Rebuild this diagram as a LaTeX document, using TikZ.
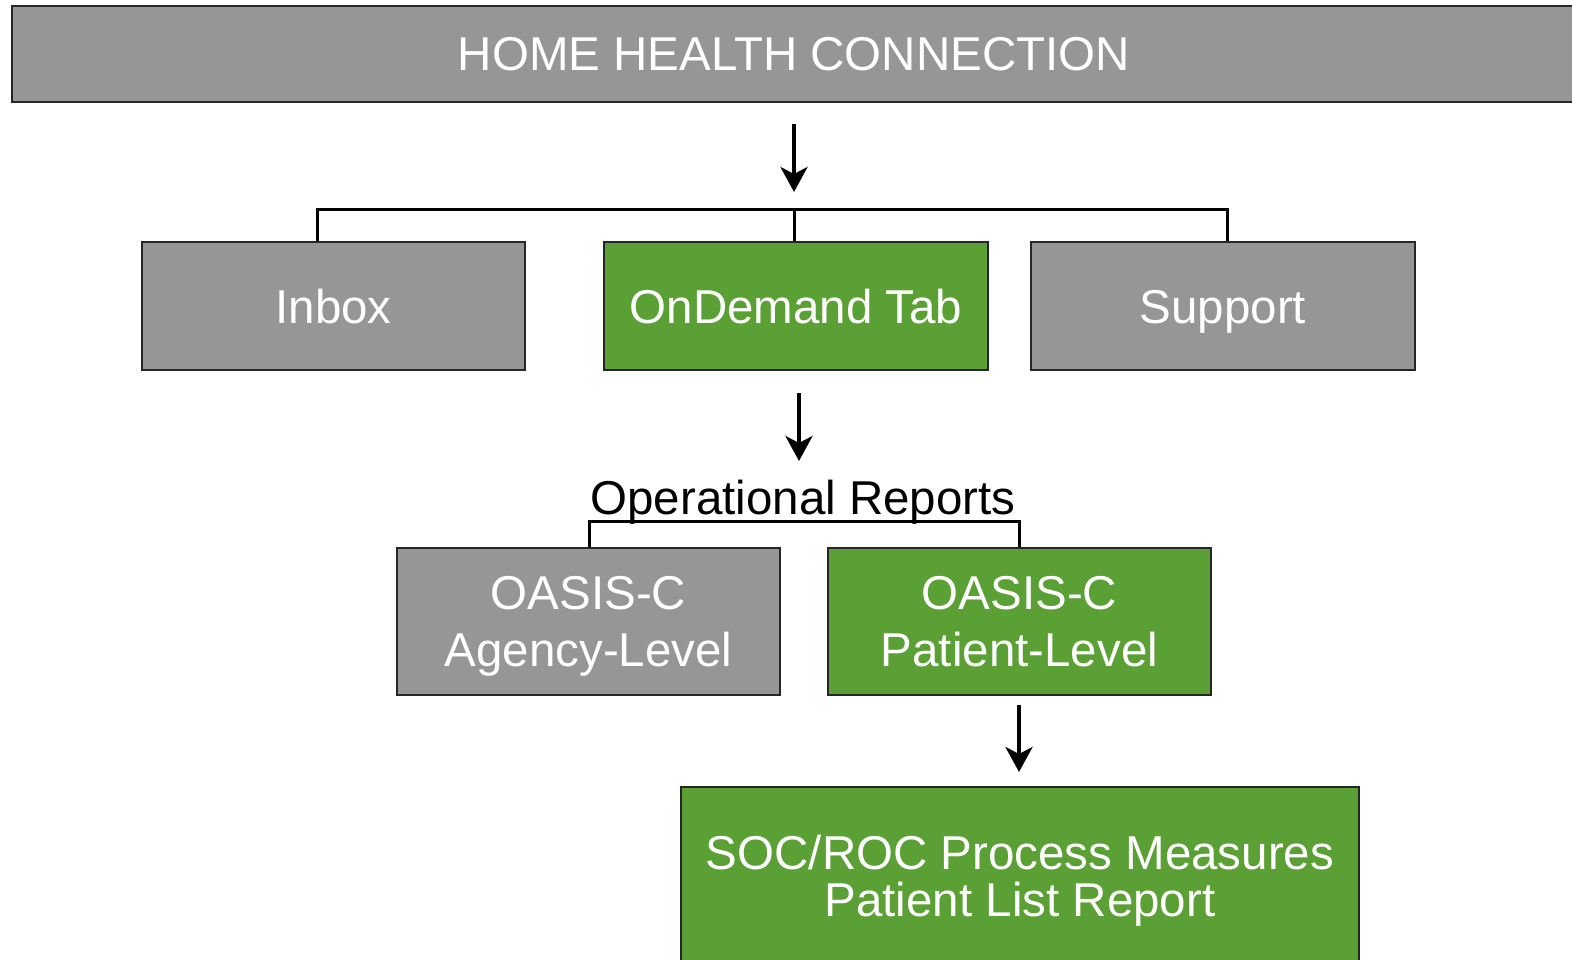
\documentclass[tikz,border=0pt]{standalone}
\usepackage{fontspec}
\setmainfont{Liberation Sans}
\usetikzlibrary{arrows.meta}
\definecolor{boxgray}{RGB}{150,150,150}
\definecolor{boxgreen}{RGB}{90,160,52}
\tikzset{
    menubox/.style={draw=black!85, line width=1.8pt, fill=boxgray, text=white, inner sep=0pt,
                    font=\fontsize{47.5}{57}\selectfont, align=center, text depth=-4pt},
    activebox/.style={menubox, fill=boxgreen},
    flowarrow/.style={line width=3.8pt, -{Stealth[length=25pt,width=27pt,inset=7pt]}},
    bracket/.style={line width=3pt},
  }
\begin{document}
\begin{tikzpicture}[x=1pt,y=-1pt]
				  %page frame
				  \path[use as bounding box, clip] (0,0) rectangle (1572,960);
				  \node[menubox, minimum width=1564pt, minimum height=96pt, text height=34pt, text depth=0pt](hhc) at (794,54) {HOME HEALTH CONNECTION};
				  \node[menubox, minimum width=383pt, minimum height=128pt, text height=34pt](inbox) at (333.5,306) {Inbox};
				  \node[activebox, minimum width=384pt, minimum height=128pt, text height=34pt](ondemand) at (796,306) {OnDemand Tab};
				  \node[menubox, minimum width=384pt, minimum height=128pt, text height=34pt](support) at (1223,306) {Support};
				  \node[font=\fontsize{47.5}{57}\selectfont, inner sep=0pt](opreports) at (803,502) {Operational Reports};
				  \node[menubox, minimum width=383pt, minimum height=147pt](agency) at (588.5,621.5) {OASIS-C\\Agency-Level};
				  \node[activebox, minimum width=383pt, minimum height=147pt](patient) at (1019.5,621.5) {OASIS-C\\Patient-Level};
				  \node[activebox, minimum width=678pt, minimum height=178pt, font=\fontsize{47.5}{47}\selectfont, text depth=0pt](soc) at (1020,876) {SOC/ROC Process Measures\\Patient List Report};
				  %arrows
				  \coordinate (a1) at (794,124);
				  \coordinate (a2) at (799,393);
				  \coordinate (a3) at (1019,705);
				  \draw[flowarrow] (a1) -- ++(0,68);
				  \draw[flowarrow] (a2) -- ++(0,68);
				  \draw[flowarrow] (a3) -- ++(0,67);
				  %brackets
				  \coordinate (bl) at (317,210);
				  \coordinate (bm) at (794,210);
				  \coordinate (br) at (1227,210);
				  \draw[bracket] (inbox.north -| bl) -- (bl) -- (br) -- (support.north -| br);
				  \draw[bracket] (bm) -- (ondemand.north -| bm);
				  \coordinate (cl) at (589,521);
				  \coordinate (cr) at (1019,521);
				  \draw[bracket] (agency.north -| cl) -- (cl) -- (cr) -- (patient.north -| cr);
				  \end{tikzpicture}
\end{document}
